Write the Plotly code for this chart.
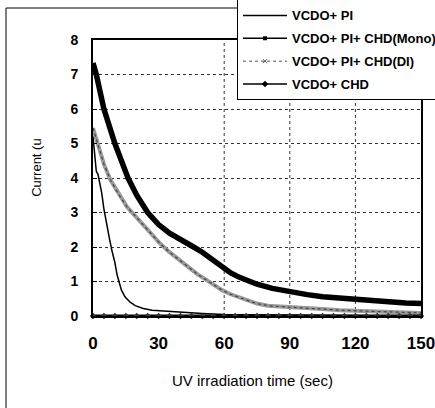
import plotly.graph_objects as go

# ---- data ----
t_pi = [0, 0.5, 1, 1.5, 2.3, 3, 4, 5, 6.3, 7.5, 8.6, 10, 11, 12, 13, 14.7, 17, 19.3,
        23, 27, 33, 40, 50, 60, 75, 90, 110, 130, 150]
i_pi = [5.2, 4.9, 4.6, 4.2, 4.1, 3.9, 3.56, 3.1, 2.59, 2.25, 1.91, 1.55, 1.2, 0.95,
        0.75, 0.55, 0.4, 0.3, 0.22, 0.17, 0.14, 0.1, 0.07, 0.04, 0.03, 0.02, 0.01,
        0.01, 0.01]

t_mono = [0, 1.5, 5, 10, 16, 20, 25, 30, 35, 40, 46, 50, 55, 59, 63, 67, 75, 82, 90,
          98, 105, 112, 120, 128, 136, 143, 150]
i_mono = [7.33, 7.0, 6.0, 5.0, 4.0, 3.5, 3.0, 2.65, 2.4, 2.2, 2.0, 1.85, 1.62, 1.42,
          1.25, 1.12, 0.92, 0.8, 0.7, 0.62, 0.56, 0.52, 0.48, 0.44, 0.4, 0.38, 0.36]

t_di = [0, 2, 5, 8, 12, 15.6, 20, 23, 27, 30.7, 35, 40, 44.5, 48, 52, 56, 59, 63,
        67.4, 72, 75, 80, 86, 95, 105, 113, 121, 130, 140, 150]
i_di = [5.45, 5.0, 4.4, 3.94, 3.5, 3.16, 2.85, 2.64, 2.35, 2.1, 1.85, 1.6, 1.39, 1.2,
        1.04, 0.87, 0.75, 0.63, 0.52, 0.42, 0.36, 0.3, 0.27, 0.23, 0.2, 0.17, 0.15,
        0.13, 0.11, 0.09]

t_chd = [0, 5, 10, 15, 20, 25, 30, 35, 40, 45, 50, 55, 60, 65, 70, 75, 80, 85, 90,
         95, 100, 105, 110, 115, 120, 125, 130, 135, 140, 145, 150]
i_chd = [0, 0, 0, 0, 0, 0, 0, 0, 0, 0, 0, 0, 0, 0, 0, 0, 0, 0, 0, 0, 0, 0, 0, 0, 0,
         0, 0, 0, 0, 0, 0]

names = ["VCDO+ PI", "VCDO+ PI+ CHD(Mono)", "VCDO+ PI+ CHD(DI)", "VCDO+ CHD"]
x_ticks = [0, 30, 60, 90, 120, 150]
y_ticks = [0, 1, 2, 3, 4, 5, 6, 7, 8]
grid_x = [60, 90, 120]

FONT = "Liberation Sans, Arial, sans-serif"

fig = go.Figure()

# data traces
fig.add_trace(go.Scatter(x=t_di, y=i_di, mode="lines", showlegend=False,
                         line=dict(color="#9a9a9a", width=4)))
fig.add_trace(go.Scatter(x=t_di, y=i_di, mode="lines", showlegend=False,
                         line=dict(color="#444444", width=1.2, dash="dot")))
fig.add_trace(go.Scatter(x=t_pi, y=i_pi, mode="lines", showlegend=False,
                         line=dict(color="black", width=1.5)))
fig.add_trace(go.Scatter(x=t_mono, y=i_mono, mode="lines", showlegend=False,
                         line=dict(color="black", width=5.5)))
fig.add_trace(go.Scatter(x=t_chd, y=i_chd, mode="lines+markers", showlegend=False,
                         cliponaxis=False,
                         line=dict(color="black", width=3),
                         marker=dict(symbol="diamond", size=5, color="#333")))

# legend-only traces
fig.add_trace(go.Scatter(x=[None], y=[None], name=names[0], mode="lines",
                         legendgroup="g1",
                         line=dict(color="black", width=1.5)))
fig.add_trace(go.Scatter(x=[None], y=[None], name=names[1], mode="lines+markers",
                         legendgroup="g2",
                         line=dict(color="black", width=1.5),
                         marker=dict(symbol="square", size=4, color="black")))
fig.add_trace(go.Scatter(x=[None], y=[None], name=names[2], mode="lines+markers",
                         legendgroup="g3",
                         line=dict(color="#555", width=1, dash="dot"),
                         marker=dict(symbol="x-thin-open", size=4, color="#555",
                                     line=dict(width=1, color="#555"))))
fig.add_trace(go.Scatter(x=[None], y=[None], name=names[3], mode="lines+markers",
                         legendgroup="g4",
                         line=dict(color="black", width=1.5),
                         marker=dict(symbol="diamond", size=5, color="black")))

shapes = []
for gx in grid_x:
    shapes.append(dict(type="line", xref="x", yref="y", x0=gx, x1=gx, y0=0, y1=8,
                       line=dict(color="#333", width=1, dash="dot"), layer="below"))
# outer chart frame
shapes.append(dict(type="rect", xref="paper", yref="paper",
                   x0=-0.2652, x1=1.3, y0=-0.6, y1=1.1159,
                   line=dict(color="black", width=1)))

fig.update_layout(
    width=435, height=408,
    margin=dict(l=93, r=14, t=40, b=92, autoexpand=False),
    paper_bgcolor="white", plot_bgcolor="white",
    font=dict(family=FONT, color="black"),
    shapes=shapes,
    legend=dict(x=0.439, xanchor="left", y=1.147, yanchor="top",
                bgcolor="white", bordercolor="black", borderwidth=1,
                font=dict(family=FONT, size=13, color="black", weight="bold"),
                itemwidth=44, tracegroupgap=3, traceorder="grouped"),
    annotations=[
        dict(text="UV irradiation time (sec)", xref="paper", yref="paper",
             x=0.485, y=-0.232, xanchor="center", yanchor="middle",
             showarrow=False, font=dict(size=15)),
        dict(text="Current (u", xref="paper", yref="paper", x=-0.171, y=0.54,
             xanchor="center", yanchor="middle",
             textangle=-90, showarrow=False, font=dict(size=13)),
    ],
)
fig.update_xaxes(range=[0, 150], tickvals=x_ticks, showgrid=False, zeroline=False,
                 showline=True, linecolor="black", linewidth=2, mirror=True,
                 ticks="", tickfont=dict(size=17, weight="bold"),
                 ticklabelstandoff=11, ticklabeloverflow="allow")
fig.update_yaxes(range=[0, 8], tickvals=y_ticks, showgrid=True, gridcolor="#333",
                 griddash="dot", gridwidth=1, zeroline=False,
                 showline=True, linecolor="black", linewidth=2, mirror=True,
                 ticks="inside", ticklen=4, tickcolor="black",
                 tickfont=dict(size=14, weight="bold"), ticklabelstandoff=10,
                 ticklabeloverflow="allow")

fig.write_html("out.html")
